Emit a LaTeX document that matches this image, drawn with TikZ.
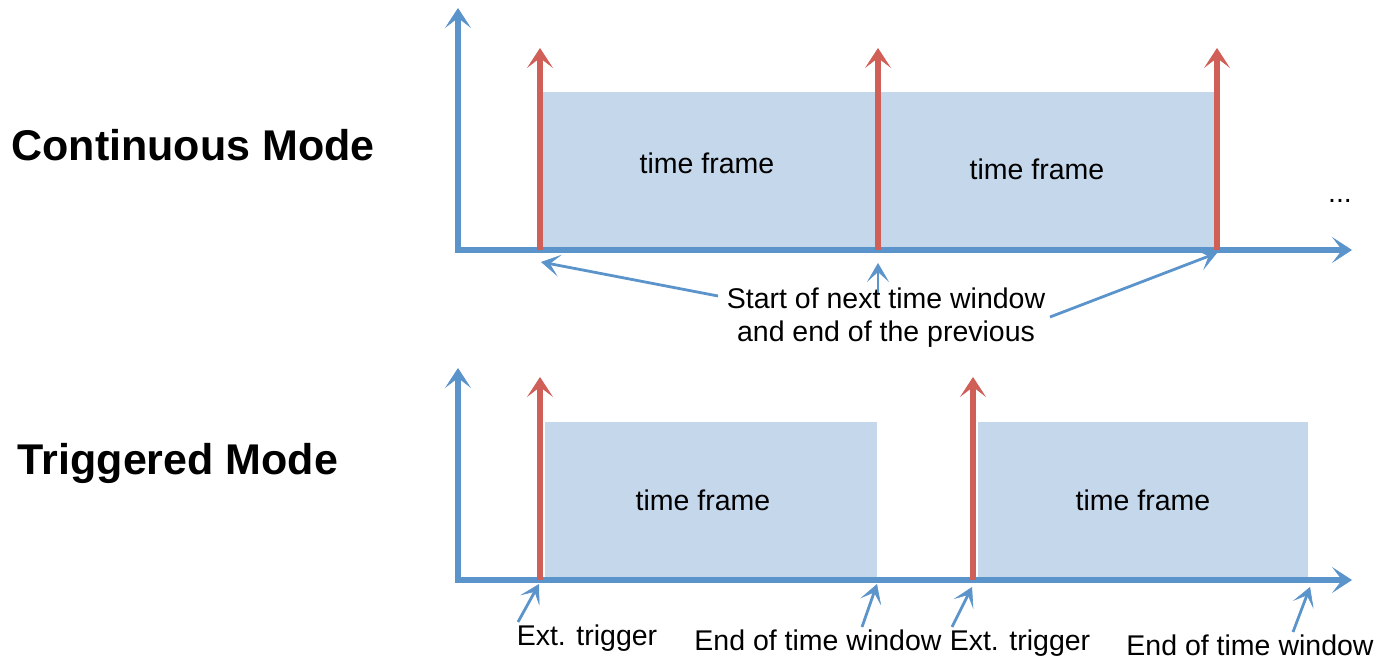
\documentclass[tikz,border=0pt]{standalone}
\usepackage{fontspec}
\setmainfont{Liberation Sans}
\usetikzlibrary{arrows.meta}
\definecolor{axisblue}{HTML}{5B93CB}
\definecolor{trigred}{HTML}{CF5F57}
\definecolor{framefill}{HTML}{C5D7EB}
\begin{document}
\begin{tikzpicture}[x=1pt,y=-1pt,
  bigtip/.style={-{Stealth[length=20pt,width=26pt,inset=10pt,line width=0.8pt]}},
  axis/.style={draw=axisblue,line width=5.5pt,bigtip},
  redarrow/.style={draw=trigred,line width=5.5pt,bigtip},
  callout/.style={draw=axisblue,line width=2.8pt,-{Stealth[length=19pt,width=22pt,inset=10pt,line width=0.6pt]}},
  frame/.style={fill=framefill,draw=none},
  lbl/.style={font=\fontsize{28.5}{33}\selectfont,inner sep=0pt,align=center},
  title/.style={font=\fontsize{43}{48}\selectfont\bfseries,inner sep=0pt}]
\useasboundingbox (0,0) rectangle (1381,660);
% ---------- Continuous mode ----------
\node[title] (cmode) at (193,145) {Continuous Mode};
\fill[frame] (540,92) rectangle (1217,250);
\coordinate (ytop1) at (458,8);
\coordinate (xend1) at (1352,250);
\draw[axis] (455,250) -- (xend1);
\draw[axis] (458,252.7) -- (ytop1);
\coordinate (r1b) at (540,250); \coordinate (r1t) at (540,48);
\coordinate (r2b) at (878,250); \coordinate (r2t) at (878,48);
\coordinate (r3b) at (1217,250); \coordinate (r3t) at (1217,48);
\draw[redarrow] (r1b) -- (r1t);
\draw[redarrow] (r2b) -- (r2t);
\draw[redarrow] (r3b) -- (r3t);
\node[lbl] (tf1) at (707,163) {time frame};
\node[lbl] (tf2) at (1037,169) {time frame};
\node[lbl] (dots) at (1340,201) {...};
\node[lbl] (startlbl) at (886,318) {Start of next time window\\and end of the previous};
\coordinate (c1t) at (718,296); \coordinate (c1h) at (541,262);
\coordinate (c2t) at (878,293); \coordinate (c2h) at (878,263);
\coordinate (c3t) at (1050,317); \coordinate (c3h) at (1217,253);
\draw[callout] (c1t) -- (c1h);
\draw[callout] (c2t) -- (c2h);
\draw[callout] (c3t) -- (c3h);
% ---------- Triggered mode ----------
\node[title] (tmode) at (178,463) {Triggered Mode};
\fill[frame] (545,422) rectangle (877,580);
\fill[frame] (978,422) rectangle (1308,580);
\coordinate (ytop2) at (458,368);
\coordinate (xend2) at (1352,580);
\draw[axis] (455,580) -- (xend2);
\draw[axis] (458,582.7) -- (ytop2);
\coordinate (t1b) at (540,580); \coordinate (t1t) at (540,377);
\coordinate (t2b) at (973,580); \coordinate (t2t) at (973,377);
\draw[redarrow] (t1b) -- (t1t);
\draw[redarrow] (t2b) -- (t2t);
\node[lbl] (tf3) at (703,500) {time frame};
\node[lbl] (tf4) at (1143,500) {time frame};
\node[lbl] (ext1) at (587,638) {Ext. trigger};
\node[lbl] (end1) at (818,640) {End of time window};
\node[lbl] (ext2) at (1020,643) {Ext. trigger};
\node[lbl] (end2) at (1250,645) {End of time window};
\coordinate (e1t) at (518,622); \coordinate (e1h) at (539,584);
\coordinate (e2t) at (862,627); \coordinate (e2h) at (877,584);
\coordinate (e3t) at (952,627); \coordinate (e3h) at (972,587);
\coordinate (e4t) at (1293,632); \coordinate (e4h) at (1310,587);
\draw[callout] (e1t) -- (e1h);
\draw[callout] (e2t) -- (e2h);
\draw[callout] (e3t) -- (e3h);
\draw[callout] (e4t) -- (e4h);
\end{tikzpicture}
\end{document}
